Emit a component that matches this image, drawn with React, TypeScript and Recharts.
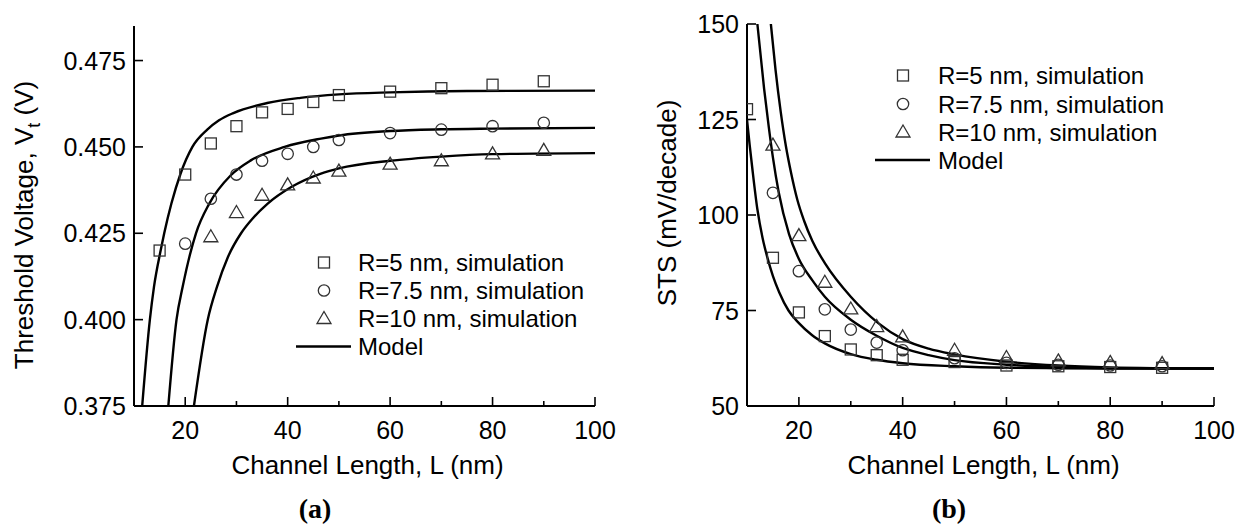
import React from 'react';
import { ComposedChart, Line, Scatter, XAxis, YAxis, Label } from 'recharts';

// (a) threshold voltage – simulation points
const vtL5 = [15, 20, 25, 30, 35, 40, 45, 50, 60, 70, 80, 90];
const vtR5 = [0.420, 0.442, 0.451, 0.456, 0.460, 0.461, 0.463, 0.465, 0.466, 0.467, 0.468, 0.469];
const vtL75 = [20, 25, 30, 35, 40, 45, 50, 60, 70, 80, 90];
const vtR75 = [0.422, 0.435, 0.442, 0.446, 0.448, 0.450, 0.452, 0.454, 0.455, 0.456, 0.457];
const vtL10 = [25, 30, 35, 40, 45, 50, 60, 70, 80, 90];
const vtR10 = [0.424, 0.431, 0.436, 0.439, 0.441, 0.443, 0.445, 0.446, 0.448, 0.449];

// (a) model curves
const vtModelL5 = [11.6, 13.1, 13.9, 15.2, 15.9, 17.3, 19.1, 21.4, 24.3, 26.6, 29.4, 36, 42.5, 50, 60, 75, 100];
const vtModelR5 = [0.375, 0.4, 0.4095, 0.42, 0.425, 0.4336, 0.4423, 0.45, 0.455, 0.4577, 0.4598, 0.4627, 0.4642, 0.4652, 0.4658, 0.4662, 0.4663];
const vtModelL75 = [16.7, 18.3, 19.5, 22.1, 24.7, 28.9, 32.8, 39.4, 46.5, 50, 60, 70, 80, 100];
const vtModelR75 = [0.375, 0.4, 0.4095, 0.425, 0.4336, 0.4418, 0.4461, 0.45, 0.4524, 0.4533, 0.4546, 0.4551, 0.4553, 0.4555];
const vtModelL10 = [21.7, 24.4, 26.2, 28.3, 30.9, 33.3, 36.1, 40.7, 46.5, 50, 60, 70, 80, 100];
const vtModelR10 = [0.375, 0.4, 0.4095, 0.418, 0.425, 0.4295, 0.4336, 0.4384, 0.4423, 0.4438, 0.446, 0.4472, 0.4479, 0.4482];

// (b) subthreshold swing – simulation points
const stsL5 = [10, 15, 20, 25, 30, 35, 40, 50, 60, 70, 80, 90];
const stsR5 = [127.7, 88.8, 74.5, 68.3, 64.8, 63.3, 62.1, 61.5, 60.6, 60.4, 60.2, 60.0];
const stsL75 = [15, 20, 25, 30, 35, 40, 50, 60, 70, 80, 90];
const stsR75 = [105.8, 85.3, 75.3, 70.0, 66.6, 64.6, 62.5, 61.3, 60.8, 60.6, 60.4];
const stsL10 = [15, 20, 25, 30, 35, 40, 50, 60, 70, 80, 90];
const stsR10 = [118.3, 94.6, 82.4, 75.4, 70.8, 68.1, 64.6, 62.7, 61.8, 61.4, 61.1];

// (b) model curves
const stsModelL5 = [10, 10.5, 11, 12, 13, 14, 15, 16.2, 18, 20, 22.5, 25, 30, 35, 40, 50, 60, 70, 80, 100];
const stsModelR5 = [125, 118.5, 112.5, 101.5, 94, 88.5, 84, 79.8, 75, 71.7, 68.6, 66.4, 63.6, 62.1, 61.2, 60.4, 60.0, 59.9, 59.8, 59.8];
const stsModelL75 = [12, 13.3, 14.2, 15, 16.1, 18.1, 20, 22.6, 25, 30, 35, 40, 45, 50, 60, 70, 80, 100];
const stsModelR75 = [150, 133, 123, 115, 106, 95, 88.5, 82.9, 78.6, 72.6, 68.4, 65.2, 63.3, 62.0, 60.8, 60.2, 59.9, 59.8];
const stsModelL10 = [14.6, 15.5, 16.5, 17.5, 18.5, 19.7, 21, 22.6, 25.1, 30, 35.3, 40, 45, 50, 60, 70, 80, 90, 100];
const stsModelR10 = [150, 138, 127, 118, 111, 104, 98.5, 93.2, 87.2, 78.6, 71.7, 67.5, 65.0, 63.5, 61.6, 60.6, 60.1, 59.9, 59.8];

const xMajor = [20, 40, 60, 80, 100];
const xMinor = [30, 50, 70, 90];
const vtTicks = [0.375, 0.4, 0.425, 0.45, 0.475];
const stsTicks = [50, 75, 100, 125, 150];
const legendNames = ['R=5 nm, simulation', 'R=7.5 nm, simulation', 'R=10 nm, simulation', 'Model'];

const FONT = '"Liberation Sans", Arial, Helvetica, sans-serif';
const MARK = '#333';

const pts = (xs: number[], ys: number[]) => xs.map((x, i) => ({ x, y: ys[i] }));

const Square = ({ cx, cy }: any) => (
  <rect x={cx - 5.5} y={cy - 5.5} width={11} height={11} fill="none" stroke={MARK} strokeWidth={1.3} />
);
const Circle = ({ cx, cy }: any) => (
  <circle cx={cx} cy={cy} r={5.7} fill="none" stroke={MARK} strokeWidth={1.3} />
);
const Triangle = ({ cx, cy }: any) => (
  <path d={`M${cx},${cy - 7} L${cx + 7},${cy + 5} L${cx - 7},${cy + 5} Z`} fill="none" stroke={MARK} strokeWidth={1.3} />
);
const shapes = [Square, Circle, Triangle];

const XTick = ({ x, y, payload }: any) => {
  const major = xMajor.includes(payload.value);
  return (
    <g>
      <line x1={x} x2={x} y1={y} y2={y - (major ? 9 : 5)} stroke="#000" strokeWidth={1.6} />
      {major && (
        <text x={x} y={y + 33} textAnchor="middle" fontSize={25} fontFamily={FONT} fill="#000">
          {payload.value}
        </text>
      )}
    </g>
  );
};

const makeYTick = (fmt: (v: number) => string) => ({ x, y, payload }: any) => (
  <g>
    <line x1={x} x2={x + 9} y1={y} y2={y} stroke="#000" strokeWidth={1.6} />
    <text x={x - 8} y={y} dy="0.36em" textAnchor="end" fontSize={25} fontFamily={FONT} fill="#000">
      {fmt(payload.value)}
    </text>
  </g>
);

const frame = { stroke: '#000', strokeWidth: 2 };

const XTitle = ({ viewBox }: any) => (
  <text x={viewBox.x + viewBox.width / 2 + 3} y={viewBox.y + 68} textAnchor="middle" fontSize={26} fontFamily={FONT} fill="#000">
    Channel Length, L (nm)
  </text>
);

const VtTitle = ({ viewBox }: any) => {
  const x = viewBox.x + 33;
  const y = viewBox.y + viewBox.height / 2 + 9;
  return (
    <text x={x} y={y} transform={`rotate(-90, ${x}, ${y})`} textAnchor="middle" fontSize={26} fontFamily={FONT} fill="#000">
      Threshold Voltage, V<tspan dy={7} fontSize={18}>t</tspan><tspan dy={-7}> (V)</tspan>
    </text>
  );
};

const StsTitle = ({ viewBox }: any) => {
  const x = viewBox.x + 56;
  const y = viewBox.y + viewBox.height / 2 - 12;
  return (
    <text x={x} y={y} transform={`rotate(-90, ${x}, ${y})`} textAnchor="middle" fontSize={26} fontFamily={FONT} fill="#000">
      STS (mV/decade)
    </text>
  );
};

interface PanelProps {
  left: number;
  width: number;
  top: number;
  yAxisWidth: number;
  rightMargin: number;
  yDomain: [number, number];
  yTicks: number[];
  yFmt: (v: number) => string;
  title: (p: any) => React.ReactElement;
  sims: { x: number; y: number }[][];
  models: { x: number; y: number }[][];
}

function Panel(p: PanelProps) {
  const YTick = makeYTick(p.yFmt);
  return (
    <div style={{ position: 'absolute', left: p.left, top: 0 }}>
      <ComposedChart
        width={p.width}
        height={532}
        margin={{ top: p.top, right: p.rightMargin, bottom: 0, left: 0 }}
        style={{ fontFamily: FONT }}
      >
        <XAxis
          dataKey="x"
          type="number"
          domain={[10, 100]}
          allowDataOverflow
          ticks={[...xMajor, ...xMinor].sort((a, b) => a - b)}
          interval={0}
          tick={<XTick />}
          tickLine={false}
          tickSize={0}
          tickMargin={0}
          axisLine={frame}
          height={126}
        >
          <Label content={<XTitle />} />
        </XAxis>
        <XAxis xAxisId="top" orientation="top" type="number" domain={[10, 100]} tick={false} tickLine={false} axisLine={frame} height={0} />
        <YAxis
          dataKey="y"
          type="number"
          domain={p.yDomain}
          allowDataOverflow
          ticks={p.yTicks}
          interval={0}
          tick={<YTick />}
          tickLine={false}
          tickSize={0}
          tickMargin={0}
          axisLine={frame}
          width={p.yAxisWidth}
        >
          <Label content={p.title} />
        </YAxis>
        <YAxis yAxisId="right" orientation="right" type="number" domain={p.yDomain} tick={false} tickLine={false} axisLine={frame} width={0} />
        {p.models.map((d, i) => (
          <Line
            key={`m${i}`}
            data={d}
            dataKey="y"
            type="monotone"
            stroke="#000"
            strokeWidth={2.4}
            dot={false}
            activeDot={false}
            isAnimationActive={false}
          />
        ))}
        {p.sims.map((d, i) => {
          const S = shapes[i];
          return <Scatter key={`s${i}`} data={d} dataKey="y" shape={<S />} isAnimationActive={false} />;
        })}
      </ComposedChart>
    </div>
  );
}

function LegendBox({ symX, textX, lineX, rows }: { symX: number; textX: number; lineX: [number, number]; rows: number[] }) {
  return (
    <g fontFamily={FONT} fontSize={24} fill="#000">
      {legendNames.map((name, i) => {
        const y = rows[i];
        const S = shapes[i];
        return (
          <g key={name}>
            {S ? <S cx={symX} cy={y} /> : <line x1={lineX[0]} x2={lineX[1]} y1={y} y2={y} stroke="#000" strokeWidth={2.4} />}
            <text x={textX} y={y} dy="0.36em">{name}</text>
          </g>
        );
      })}
    </g>
  );
}

export default function App() {
  return (
    <div style={{ position: 'absolute', left: 0, top: 0, width: 1246, height: 532, background: '#fff' }}>
      <Panel
        left={0}
        width={620}
        top={26}
        yAxisWidth={134}
        rightMargin={25}
        yDomain={[0.375, 0.485]}
        yTicks={vtTicks}
        yFmt={(v) => v.toFixed(3)}
        title={(props: any) => <VtTitle {...props} />}
        sims={[pts(vtL5, vtR5), pts(vtL75, vtR75), pts(vtL10, vtR10)]}
        models={[pts(vtModelL5, vtModelR5), pts(vtModelL75, vtModelR75), pts(vtModelL10, vtModelR10)]}
      />
      <Panel
        left={620}
        width={626}
        top={24}
        yAxisWidth={127}
        rightMargin={32}
        yDomain={[50, 150]}
        yTicks={stsTicks}
        yFmt={(v) => String(v)}
        title={(props: any) => <StsTitle {...props} />}
        sims={[pts(stsL5, stsR5), pts(stsL75, stsR75), pts(stsL10, stsR10)]}
        models={[pts(stsModelL5, stsModelR5), pts(stsModelL75, stsModelR75), pts(stsModelL10, stsModelR10)]}
      />
      <svg width={1246} height={532} style={{ position: 'absolute', left: 0, top: 0, pointerEvents: 'none' }}>
        <LegendBox symX={324} textX={358} lineX={[296, 351]} rows={[262.5, 290.5, 318.5, 346.5]} />
        <LegendBox symX={903} textX={938} lineX={[875, 930]} rows={[75.5, 104, 132, 160]} />
        <g fontFamily='"Liberation Serif", "DejaVu Serif", serif' fontWeight="bold" fontSize={28} fill="#000" textAnchor="middle">
          <text x={315} y={518}>(a)</text>
          <text x={949} y={518}>(b)</text>
        </g>
      </svg>
    </div>
  );
}
